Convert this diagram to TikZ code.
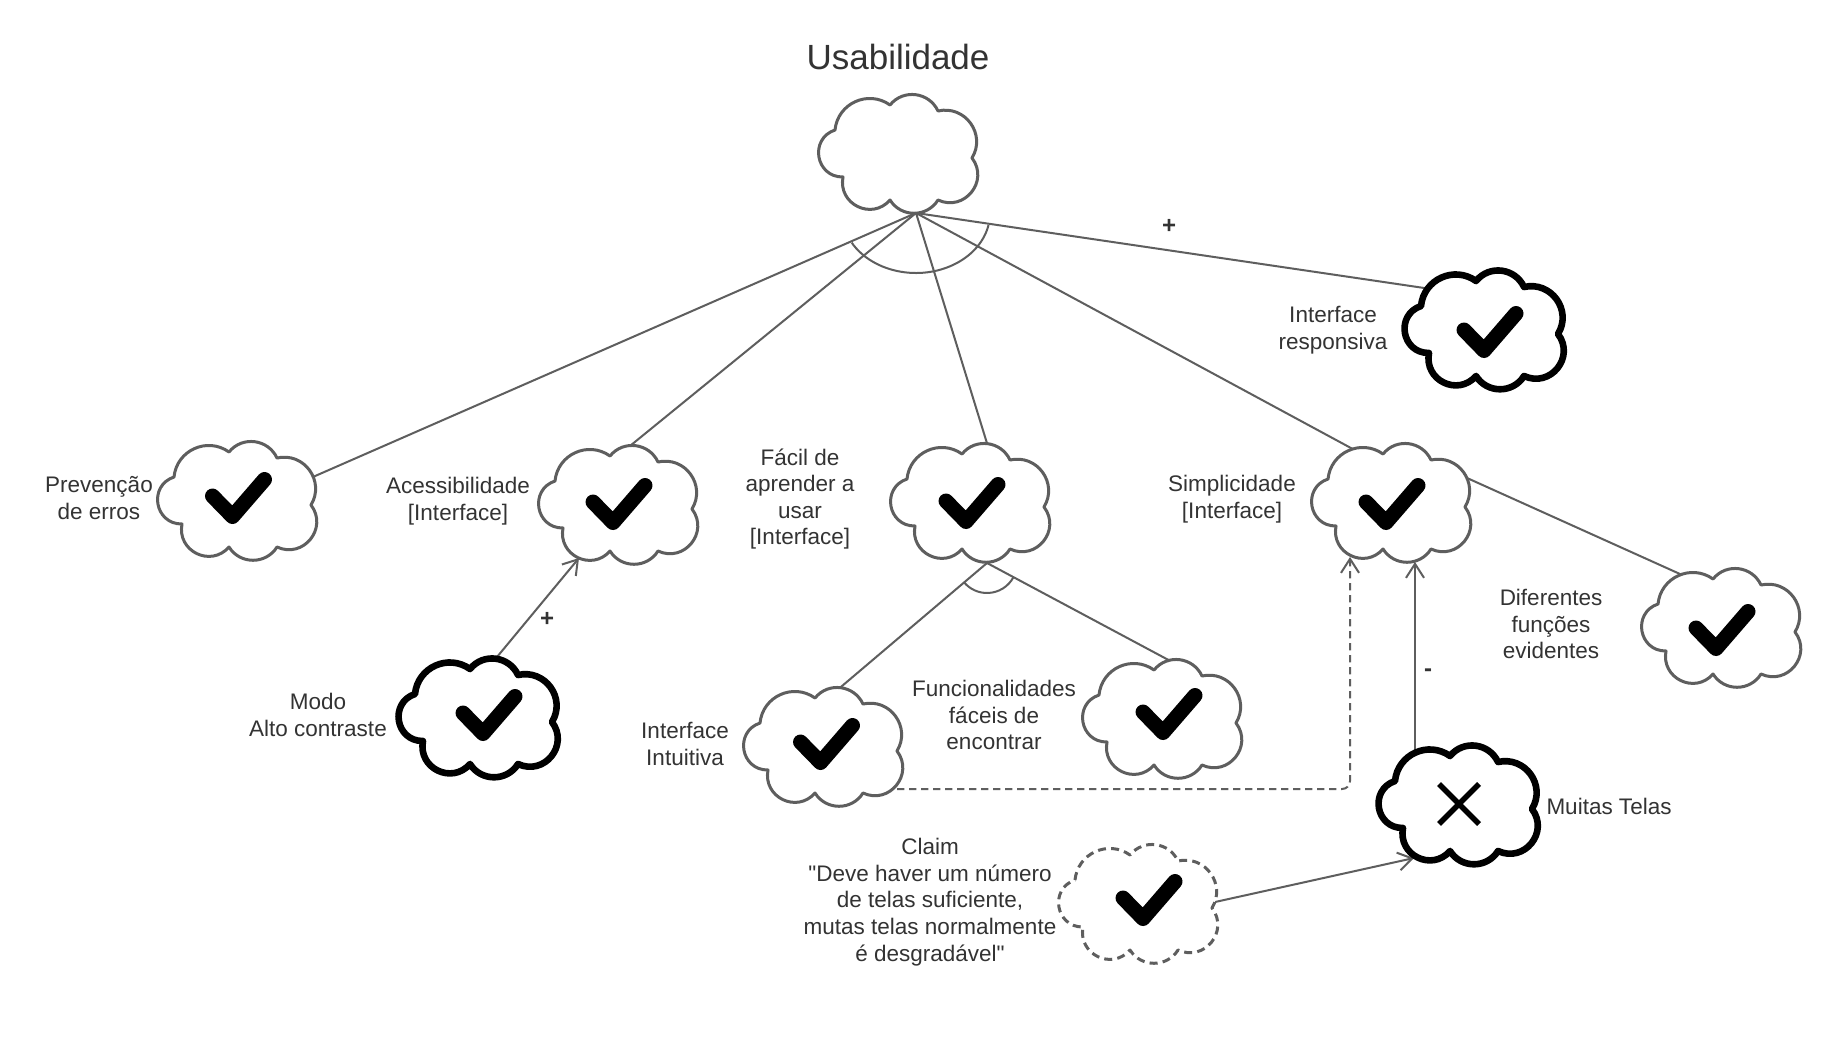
\documentclass[tikz,border=0pt]{standalone}
\usepackage{fontspec}
\setmainfont{Liberation Sans}[Ligatures=TeXOff]
\usetikzlibrary{arrows.meta,calc}
\definecolor{linegray}{HTML}{5E5E5E}
\definecolor{textgray}{HTML}{333333}
\begin{document}
\begin{tikzpicture}[x=0.5pt,y=-0.5pt,
  txt/.style={text=textgray, align=center, inner sep=0pt, font=\fontsize{11.25}{13.3}\selectfont},
  sign/.style={text=textgray, inner sep=0pt, font=\fontsize{12}{14}\selectfont\bfseries},
  conn/.style={draw=linegray, line width=1pt},
  opentip/.style={-{Straight Barb[length=7pt,width=9pt]}},
  dashline/.style={dash pattern=on 3.7pt off 2.3pt},
  plaincloud/.style={draw=linegray, line width=1.5pt, fill=white, line join=round},
  boldcloud/.style={draw=black, line width=3.3pt, fill=white, line join=round},
  dashcloud/.style={plaincloud, dash pattern=on 4pt off 2.6pt},
  pics/cloudshape/.style={code={
    \path[#1] (-63,-23) .. controls (-60.4,-49.7) and (-29.8,-63.6) .. (-8,-48)
      .. controls (5.3,-64.4) and (31.1,-61.1) .. (40,-42)
      .. controls (67.1,-48.2) and (88.4,-18.8) .. (74,5)
      .. controls (91.5,28.1) and (66.3,59.2) .. (40,47)
      .. controls (28.9,64.7) and (3.1,64.7) .. (-8,47)
      .. controls (-26.2,67.9) and (-60.3,51.2) .. (-55,24)
      .. controls (-82.5,24.3) and (-89.1,-14.2) .. (-63,-23) -- cycle;
  }},
  pics/checkmark/.style={code={
    \draw[black, line width=7.5pt, line cap=round, line join=round]
      (-26,-2) -- (-6,18.5) -- (26,-18.5);
  }},
  pics/crossmark/.style={code={
    \draw[black, line width=2.8pt] (-20,-20) -- (20,20) (20,-20) -- (-20,20);
  }}
]
\useasboundingbox[fill=white] (0,0) rectangle (1829,1038);

% cloud centres
\coordinate (u)  at (898,153);
\coordinate (pe) at (237,500);
\coordinate (ac) at (618,504);
\coordinate (fa) at (970,502);
\coordinate (si) at (1391,502);
\coordinate (ir) at (1484,329);
\coordinate (df) at (1721,627);
\coordinate (ma) at (478,717);
\coordinate (ii) at (823,746);
\coordinate (ff) at (1162,718);
\coordinate (mt) at (1458,804);
\coordinate (cl) at (1138,903);

% fork points
\coordinate (u-fork)  at ($(u)+(18,60)$);
\coordinate (fa-fork) at ($(fa)+(17,61)$);

% decomposition of the root
\draw[conn] (u-fork) -- ($(pe)+(69,-20)$);
\draw[conn] (u-fork) -- ($(ac)+(7,-54)$);
\draw[conn] (u-fork) -- ($(fa)+(20,-49)$);
\draw[conn] (u-fork) -- ($(si)+(-29,-48)$);
\draw[conn] (u-fork) -- ($(ir)+(-53,-40)$);
\draw[conn] ($(u-fork)+(11.5:74 and 60)$) arc[start angle=11.5, end angle=150.4, x radius=74, y radius=60];

% decomposition of "Fácil de aprender a usar"
\draw[conn] (fa-fork) -- ($(ii)+(9,-51.5)$);
\draw[conn] (fa-fork) -- ($(ff)+(14,-54)$);
\draw[conn] ($(fa-fork)+(28.1:30)$) arc[start angle=28.1, end angle=139.6, radius=30];

% other links
\draw[conn] ($(si)+(68.7,-27.3)$) -- ($(df)+(-33.7,-49.7)$);
\draw[conn, opentip] ($(ma)+(12.6,-52.3)$) -- ($(ac)+(-39,54)$);
\draw[conn, opentip, dashline, rounded corners=4pt] ($(ii)+(62,43)$) -| ($(si)+(-41,55)$);
\draw[conn, opentip] ($(mt)+(-43,-39)$) -- ($(si)+(24,60)$);
\draw[conn, opentip] ($(cl)+(68,1)$) -- ($(mt)+(-44,54)$);

% clouds
\pic at (u)  {cloudshape=plaincloud};
\pic at (pe) {cloudshape=plaincloud};
\pic at (ac) {cloudshape=plaincloud};
\pic at (fa) {cloudshape=plaincloud};
\pic at (si) {cloudshape=plaincloud};
\pic at (df) {cloudshape=plaincloud};
\pic at (ii) {cloudshape=plaincloud};
\pic at (ff) {cloudshape=plaincloud};
\pic at (ir) {cloudshape=boldcloud};
\pic at (ma) {cloudshape=boldcloud};
\pic at (mt) {cloudshape=boldcloud};
\pic at (cl) {cloudshape=dashcloud};

% marks
\pic at (238.5,498) {checkmark};
\pic at (619,504)   {checkmark};
\pic at (972,503)   {checkmark};
\pic at (1392,504)  {checkmark};
\pic at (1490,332)  {checkmark};
\pic at (1722,630)  {checkmark};
\pic at (489,715)   {checkmark};
\pic at (826.5,744) {checkmark};
\pic at (1169,714)  {checkmark};
\pic at (1149,900)  {checkmark};
\pic at (1459,804)  {crossmark};

% labels
\node[txt, font=\fontsize{17.5}{21}\selectfont] (title) at (898,57) {Usabilidade};
\node[txt] (lpe) at (99,498)   {Prevenção\\de erros};
\node[txt] (lac) at (458,501)  {Acessibilidade\\{[Interface]}};
\node[txt] (lfa) at (800,499)  {Fácil de\\aprender a\\usar\\{[Interface]}};
\node[txt] (lsi) at (1232,499) {Simplicidade\\{[Interface]}};
\node[txt] (lir) at (1333,330) {Interface\\responsiva};
\node[txt] (ldf) at (1551,624) {Diferentes\\funções\\evidentes};
\node[txt] (lma) at (318,715)  {Modo\\Alto contraste};
\node[txt] (lii) at (685,744)  {Interface\\Intuitiva};
\node[txt] (lff) at (994,715)  {Funcionalidades\\fáceis de\\encontrar};
\node[txt] (lmt) at (1609,806) {Muitas Telas};
\node[txt] (lcl) at (930,902)  {Claim\\"Deve haver um número\\de telas suficiente,\\mutas telas normalmente\\é desgradável"};
\node[sign] (s1) at (1169,226) {+};
\node[sign] (s2) at (547,619)  {+};
\node[sign] (s3) at (1428,673) {-};
\end{tikzpicture}
\end{document}
